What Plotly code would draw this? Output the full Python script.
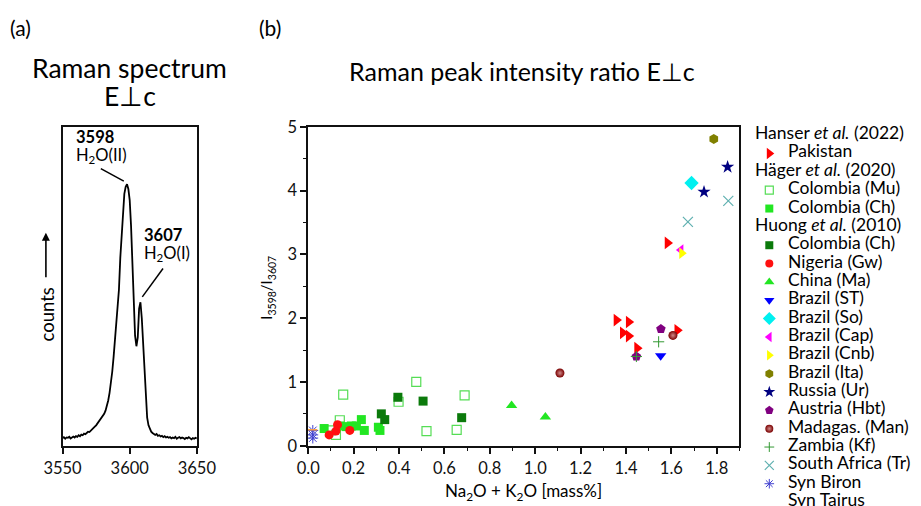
import plotly.graph_objects as go

# The photographed page appears scaled by S and shifted by (OX, OY):
# picture_px = O + S * figure_px.  Target positions are converted back.
S = 0.962
OX, OY = 18.0, 8.0
FW, FH = 941, 510
TEXT_DY = -2.5
FONT = "Lato"

# ---------------- data: panel (a) spectrum ----------------
spec_wavenumber = list(range(3550, 3651))
spec_counts = [
    24, 27, 22, 26, 25, 28, 23, 27, 29, 26,
    30, 28, 33, 30, 35, 33, 38, 36, 41, 44,
    43, 48, 51, 55, 60, 64, 70, 75, 80, 86,
    92, 100, 110, 124, 142, 166, 196, 232, 278, 330,
    385, 438, 490, 590, 670, 735, 790, 812, 820, 805,
    770, 690, 560, 430, 345, 312, 340, 430, 450, 400,
    320, 210, 130, 88, 64, 50, 44, 40, 36, 34,
    37, 31, 33, 29, 31, 27, 30, 26, 28, 25,
    27, 23, 26, 24, 28, 22, 25, 27, 23, 26,
    24, 21, 25, 23, 27, 22, 20, 24, 22, 25,
    23,
]
spec_ticks = [3550, 3600, 3650]

# ---------------- data: panel (b) scatter ----------------
pakistan_x = [1.358, 1.412, 1.386, 1.412, 1.449, 1.583, 1.626]
pakistan_y = [1.97, 1.94, 1.77, 1.72, 1.53, 3.18, 1.81]

col_mu_x = [0.098, 0.122, 0.139, 0.154, 0.398, 0.476, 0.689, 0.521, 0.654]
col_mu_y = [0.24, 0.17, 0.40, 0.80, 0.69, 1.00, 0.79, 0.23, 0.25]

col_ch_hager_x = [0.070, 0.139, 0.168, 0.190, 0.212, 0.234, 0.247, 0.309, 0.316]
col_ch_hager_y = [0.27, 0.31, 0.30, 0.31, 0.31, 0.41, 0.24, 0.29, 0.24]

col_ch_huong_x = [0.322, 0.337, 0.395, 0.506, 0.676]
col_ch_huong_y = [0.50, 0.41, 0.76, 0.70, 0.44]

nigeria_x = [0.092, 0.122, 0.129, 0.183]
nigeria_y = [0.17, 0.23, 0.33, 0.24]

china_x = [0.896, 1.045]
china_y = [0.63, 0.45]

brazil_st_x = [1.553]
brazil_st_y = [1.41]

brazil_so_x = [1.689]
brazil_so_y = [4.12]

brazil_cap_x = [1.642]
brazil_cap_y = [3.07]

brazil_cnb_x = [1.646]
brazil_cnb_y = [3.02]

brazil_ita_x = [1.787]
brazil_ita_y = [4.81]

russia_x = [1.744, 1.848]
russia_y = [3.98, 4.37]

austria_x = [1.554, 1.446]
austria_y = [1.83, 1.40]

madagas_x = [1.109, 1.607]
madagas_y = [1.14, 1.73]

zambia_x = [1.544, 1.446]
zambia_y = [1.63, 1.40]

south_africa_x = [1.673, 1.851]
south_africa_y = [3.51, 3.84]

syn_biron_x = [0.020, 0.020, 0.020]
syn_biron_y = [0.24, 0.17, 0.12]

syn_tairus_x = [0.015]
syn_tairus_y = [0.25]

x_ticks_b = [0.0, 0.2, 0.4, 0.6, 0.8, 1.0, 1.2, 1.4, 1.6, 1.8]
y_ticks_b = [0, 1, 2, 3, 4, 5]

# legend structure: (kind, label, series key)
legend_rows = [
    ("head", "Hanser <i>et al.</i> (2022)", None),
    ("item", "Pakistan", "pakistan"),
    ("head", "Häger <i>et al.</i> (2020)", None),
    ("item", "Colombia (Mu)", "col_mu"),
    ("item", "Colombia (Ch)", "col_ch_hager"),
    ("head", "Huong <i>et al.</i> (2010)", None),
    ("item", "Colombia (Ch)", "col_ch_huong"),
    ("item", "Nigeria (Gw)", "nigeria"),
    ("item", "China (Ma)", "china"),
    ("item", "Brazil (ST)", "brazil_st"),
    ("item", "Brazil (So)", "brazil_so"),
    ("item", "Brazil (Cap)", "brazil_cap"),
    ("item", "Brazil (Cnb)", "brazil_cnb"),
    ("item", "Brazil (Ita)", "brazil_ita"),
    ("item", "Russia (Ur)", "russia"),
    ("item", "Austria (Hbt)", "austria"),
    ("item", "Madagas. (Man)", "madagas"),
    ("item", "Zambia (Kf)", "zambia"),
    ("item", "South Africa (Tr)", "south_africa"),
    ("item", "Syn Biron", "syn_biron"),
    ("item", "Syn Tairus", "syn_tairus"),
]

series = {
    "pakistan": (pakistan_x, pakistan_y),
    "col_mu": (col_mu_x, col_mu_y),
    "col_ch_hager": (col_ch_hager_x, col_ch_hager_y),
    "col_ch_huong": (col_ch_huong_x, col_ch_huong_y),
    "nigeria": (nigeria_x, nigeria_y),
    "china": (china_x, china_y),
    "brazil_st": (brazil_st_x, brazil_st_y),
    "brazil_so": (brazil_so_x, brazil_so_y),
    "brazil_cap": (brazil_cap_x, brazil_cap_y),
    "brazil_cnb": (brazil_cnb_x, brazil_cnb_y),
    "brazil_ita": (brazil_ita_x, brazil_ita_y),
    "russia": (russia_x, russia_y),
    "austria": (austria_x, austria_y),
    "madagas": (madagas_x, madagas_y),
    "zambia": (zambia_x, zambia_y),
    "south_africa": (south_africa_x, south_africa_y),
    "syn_biron": (syn_biron_x, syn_biron_y),
    "syn_tairus": (syn_tairus_x, syn_tairus_y),
}

# ---------------- styles ----------------
styles = {
    "pakistan": dict(symbol="triangle-right", color="#FF0000", size=11),
    "col_mu": dict(symbol="square-open", color="#55DD55", size=9, line=dict(width=1.2, color="#55DD55")),
    "col_ch_hager": dict(symbol="square", color="#22E622", size=9),
    "col_ch_huong": dict(symbol="square", color="#0B7A0B", size=9),
    "nigeria": dict(symbol="circle", color="#FF1010", size=9),
    "china": dict(symbol="triangle-up", color="#22E622", size=10),
    "brazil_st": dict(symbol="triangle-down", color="#0000FF", size=10),
    "brazil_so": dict(symbol="diamond", color="#00F0F0", size=11),
    "brazil_cap": dict(symbol="triangle-left", color="#FF00FF", size=10),
    "brazil_cnb": dict(symbol="triangle-right", color="#FFFF00", size=10),
    "brazil_ita": dict(symbol="hexagon", color="#808000", size=10),
    "russia": dict(symbol="star", color="#000080", size=10),
    "austria": dict(symbol="pentagon", color="#800080", size=10),
    "madagas": dict(symbol="circle", color="#7A0000", size=9,
                    gradient=dict(type="radial", color="#D08A8A")),
    "zambia": dict(symbol="cross-thin-open", color="#339933", size=8, line=dict(width=1, color="#339933")),
    "south_africa": dict(symbol="x-thin-open", color="#5FB0B0", size=10, line=dict(width=1.2, color="#5FB0B0")),
    "syn_biron": dict(symbol="asterisk-open", color="#4040D0", size=9, line=dict(width=1, color="#4040D0")),
    "syn_tairus": dict(symbol="line-ew-open", color="#FFA040", size=8, line=dict(width=1.5, color="#FFA040")),
}


def px_x(t):
    # target-picture pixel -> paper coordinate
    return (t - OX) / S / FW


def px_y(t):
    return 1 - (t - OY) / S / FH


fig = go.Figure()

# panel (a) spectrum
fig.add_trace(go.Scatter(
    x=spec_wavenumber, y=spec_counts, mode="lines",
    line=dict(color="black", width=1.8), xaxis="x", yaxis="y", showlegend=False,
))

# panel (b) scatter
for kind, label, key in legend_rows:
    if kind != "item":
        continue
    xs, ys = series[key]
    st = dict(styles[key])
    fig.add_trace(go.Scatter(
        x=xs, y=ys, mode="markers", marker=st, name=label,
        xaxis="x2", yaxis="y2", showlegend=False, cliponaxis=False,
    ))

# manual legend (axis 3 in target-pixel units)
LEG_TOP, LEG_STEP = 133.3, 18.37
LEG_FONT = 17.5
LEG_LEFT = 748
annotations = []
for i, (kind, label, key) in enumerate(legend_rows):
    yy = LEG_TOP + LEG_STEP * i
    if kind == "head":
        annotations.append(dict(x=px_x(755), y=px_y(yy + TEXT_DY), text=label, font=dict(size=LEG_FONT)))
    else:
        st = dict(styles[key])
        st["size"] = max(st["size"] - 1, 7)
        fig.add_trace(go.Scatter(
            x=[771], y=[yy], mode="markers", marker=st,
            xaxis="x3", yaxis="y3", showlegend=False, cliponaxis=False, hoverinfo="skip",
        ))
        annotations.append(dict(x=px_x(788), y=px_y(yy + TEXT_DY), text=label, font=dict(size=LEG_FONT)))

# titles / labels
annotations += [
    dict(x=px_x(7), y=px_y(28 + TEXT_DY), text="(a)", font=dict(size=21)),
    dict(x=px_x(257), y=px_y(28 + TEXT_DY), text="(b)", font=dict(size=21)),
    dict(x=px_x(129), y=px_y(69 + TEXT_DY), text="Raman spectrum", font=dict(size=26.5), xanchor="center"),
    dict(x=px_x(129), y=px_y(97 + TEXT_DY), text="E⊥c", font=dict(size=26.5), xanchor="center"),
    dict(x=px_x(523), y=px_y(72 + TEXT_DY), text="Raman peak intensity ratio E⊥c", font=dict(size=25), xanchor="center"),
    dict(x=px_x(524), y=px_y(493 + TEXT_DY), text="Na<sub>2</sub>O + K<sub>2</sub>O [mass%]", font=dict(size=17), xanchor="center"),
    dict(x=px_x(267), y=px_y(286), text="I<sub>3598</sub>/I<sub>3607</sub>", font=dict(size=15),
         xanchor="center", textangle=-90),
    dict(x=px_x(46), y=px_y(313), text="counts", font=dict(size=18.5), xanchor="center", textangle=-90),
]
# peak labels in data coordinates of panel (a)
annotations += [
    dict(x=3558.5, y=968, xref="x", yref="y", text="<b>3598</b>", font=dict(size=16.5)),
    dict(x=3558.5, y=910, xref="x", yref="y", text="H<sub>2</sub>O(II)", font=dict(size=16.5)),
    dict(x=3609.2, y=660, xref="x", yref="y", text="<b>3607</b>", font=dict(size=16.5)),
    dict(x=3609.2, y=602, xref="x", yref="y", text="H<sub>2</sub>O(I)", font=dict(size=16.5)),
]
for a in annotations:
    a.setdefault("xref", "paper")
    a.setdefault("yref", "paper")
    a.setdefault("showarrow", False)
    a.setdefault("xanchor", "left")
    a.setdefault("yanchor", "middle")
    a["font"] = dict(family=FONT, color="black", size=a["font"]["size"])

# arrow next to "counts"
annotations.append(dict(x=px_x(45), y=px_y(231), xref="paper", yref="paper", ax=0, ay=46,
                        axref="pixel", ayref="pixel", text="", showarrow=True,
                        arrowhead=2, arrowsize=1, arrowwidth=1.6, arrowcolor="black",
                        font=dict(family=FONT, size=12, color="black")))

shapes = [
    dict(type="line", xref="x", yref="y", x0=3578.5, y0=869, x1=3595.6, y1=830,
         line=dict(color="black", width=1.5)),
    dict(type="line", xref="x", yref="y", x0=3624.8, y0=556, x1=3609.4, y1=467,
         line=dict(color="black", width=1.5)),
]

axis_common = dict(showline=True, linecolor="#111", linewidth=2, mirror=True,
                   showgrid=False, zeroline=False, ticks="outside", tickcolor="#111",
                   tickwidth=1.5, ticklen=6,
                   tickfont=dict(family=FONT, size=16.5, color="#111"))

yd = [px_y(444.3), px_y(125)]

fig.update_layout(
    width=FW, height=FH, margin=dict(l=0, r=0, t=0, b=0, pad=0),
    paper_bgcolor="white", plot_bgcolor="rgba(0,0,0,0)",
    font=dict(family=FONT, color="black", size=16),
    showlegend=False,
    xaxis=dict(domain=[px_x(61.7), px_x(196.5)], range=[3550, 3650], tickvals=spec_ticks,
               anchor="y", **axis_common),
    yaxis=dict(domain=yd, range=[0, 1000], anchor="x", showline=True, linecolor="#111",
               linewidth=2, mirror=True, showgrid=False, zeroline=False,
               showticklabels=False, ticks=""),
    xaxis2=dict(domain=[px_x(308.3), px_x(741)], range=[0, 1.9], tickvals=x_ticks_b,
                tickformat=".1f", anchor="y2",
                minor=dict(ticks="outside", dtick=0.1, ticklen=3.5, tickcolor="#111", tickwidth=1.2),
                **axis_common),
    yaxis2=dict(domain=yd, range=[0, 5], tickvals=y_ticks_b, anchor="x2",
                minor=dict(ticks="outside", dtick=0.5, ticklen=3.5, tickcolor="#111", tickwidth=1.2),
                **axis_common),
    xaxis3=dict(domain=[px_x(LEG_LEFT), 1], range=[LEG_LEFT, OX + S * FW], visible=False,
                anchor="y3", fixedrange=True),
    yaxis3=dict(domain=[0, 1], range=[OY + S * FH, OY], visible=False, anchor="x3", fixedrange=True),
    annotations=annotations,
    shapes=shapes,
)

fig.write_html("out.html")
